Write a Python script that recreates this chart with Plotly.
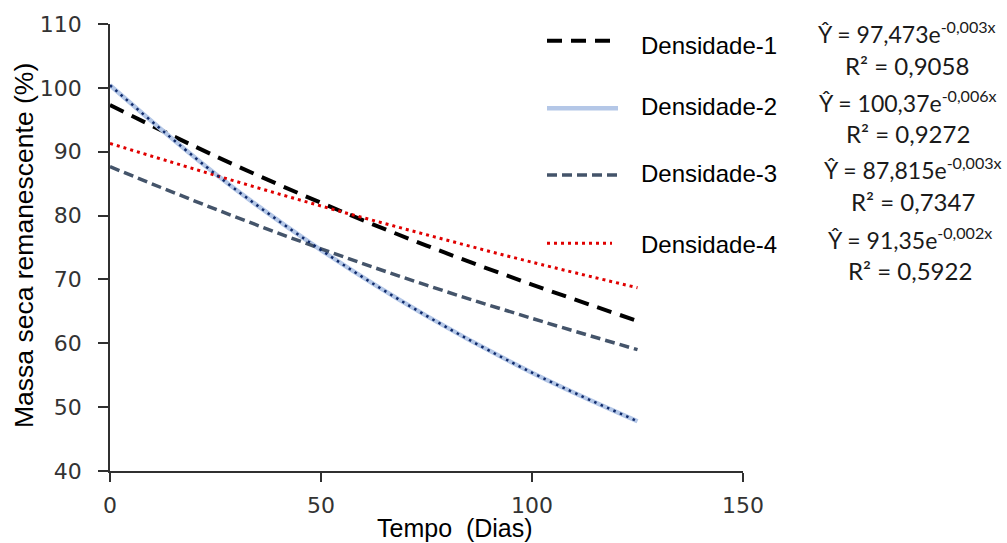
import plotly.graph_objects as go

# Remaining dry mass (%) over time (days) for four densities
dias = [0, 25, 50, 75, 100, 125]
densidade_1 = [97.3, 89.3, 82.0, 75.3, 69.2, 63.5]
densidade_2 = [100.4, 86.5, 74.6, 64.3, 55.4, 47.8]
densidade_3 = [87.65, 81.0, 74.8, 69.1, 63.9, 59.0]
densidade_4 = [91.3, 86.3, 81.5, 77.0, 72.7, 68.7]

nomes = ["Densidade-1", "Densidade-2", "Densidade-3", "Densidade-4"]
equacoes = [
    ("Ŷ = 97,473e<sup>-0,003x</sup>", "R² = 0,9058"),
    ("Ŷ = 100,37e<sup>-0,006x</sup>", "R² = 0,9272"),
    ("Ŷ = 87,815e<sup>-0,003x</sup>", "R² = 0,7347"),
    ("Ŷ = 91,35e<sup>-0,002x</sup>", "R² = 0,5922"),
]

W, H = 1007, 543
ML, MR, MT, MB = 110, 264, 24, 72
PW, PH = W - ML - MR, H - MT - MB


def px_x(px):
    return (px - ML) / PW


def px_y(py):
    return (H - MB - py) / PH


estilos = [
    dict(color="#000000", width=4, dash="15px,9px"),
    dict(color="#B4C7E7", width=4.5, dash="solid"),
    dict(color="#44546A", width=3.5, dash="10px,5px"),
    dict(color="#E00000", width=3, dash="3px,4px"),
]

fig = go.Figure()
series = [densidade_1, densidade_2, densidade_3, densidade_4]
for nome, ys, est in zip(nomes, series, estilos):
    fig.add_trace(go.Scatter(x=dias, y=ys, mode="lines", name=nome,
                             line=dict(shape="spline", **est)))
# dotted trend overlay on Densidade-2
fig.add_trace(go.Scatter(x=dias, y=densidade_2, mode="lines", showlegend=False,
                         line=dict(shape="spline", color="#0F2A6B", width=2.5,
                                   dash="2.5px,4.5px")))

eixo = dict(showline=True, linecolor="#303030", linewidth=1.5, ticks="outside",
            tickcolor="#303030", tickwidth=1.5, showgrid=False, zeroline=False,
            tickfont=dict(family="DejaVu Sans", size=22, color="#333333"))

fig.update_xaxes(range=[0, 150], tickvals=[0, 50, 100, 150], ticklen=9,
                 ticklabelstandoff=5, **eixo)
fig.update_yaxes(range=[40, 110], tickvals=list(range(40, 111, 10)), ticklen=10,
                 ticklabelstandoff=12, **eixo)

anot = []
shapes = []
amostra_y = [40.7, 108.3, 175, 243.3]
amostra_x1 = [615, 618, 618, 612]
texto_y = [46, 106, 174, 244]
for i, nome in enumerate(nomes):
    est = estilos[i]
    shapes.append(dict(type="line", xref="paper", yref="paper",
                       x0=px_x(547), x1=px_x(amostra_x1[i]),
                       y0=px_y(amostra_y[i]), y1=px_y(amostra_y[i]),
                       line=dict(color=est["color"], width=est["width"], dash=est["dash"])))
    anot.append(dict(xref="paper", yref="paper", x=px_x(639), y=px_y(texto_y[i]),
                     xanchor="left", yanchor="middle", showarrow=False, text=nome,
                     font=dict(family="Liberation Sans", size=24, color="#000000")))

eq_cx = [907, 908, 913, 910]
eq_y = [33, 101, 168, 238]
r2_y = [65, 133, 201, 270]
for i, (eq, r2) in enumerate(equacoes):
    anot.append(dict(xref="paper", yref="paper", x=px_x(eq_cx[i]), y=px_y(eq_y[i]),
                     xanchor="center", yanchor="middle", showarrow=False, text=eq,
                     font=dict(family="Lato", size=23, color="#1a1a1a")))
    anot.append(dict(xref="paper", yref="paper", x=px_x(eq_cx[i]), y=px_y(r2_y[i]),
                     xanchor="center", yanchor="middle", showarrow=False, text=r2,
                     font=dict(family="Lato", size=24, color="#1a1a1a")))

# axis titles
anot.append(dict(xref="paper", yref="paper", x=px_x(455), y=px_y(528),
                 xanchor="center", yanchor="middle", showarrow=False,
                 text="Tempo  (Dias)",
                 font=dict(family="Liberation Sans", size=25, color="#000000")))
anot.append(dict(xref="paper", yref="paper", x=px_x(24), y=px_y(246),
                 xanchor="center", yanchor="middle", showarrow=False, textangle=-90,
                 text="Massa seca remanescente (%)",
                 font=dict(family="Liberation Sans", size=26.5, color="#000000")))

fig.update_layout(width=W, height=H, margin=dict(l=ML, r=MR, t=MT, b=MB, pad=0),
                  plot_bgcolor="white", paper_bgcolor="white", showlegend=False,
                  annotations=anot, shapes=shapes)

fig.write_html("out.html")
